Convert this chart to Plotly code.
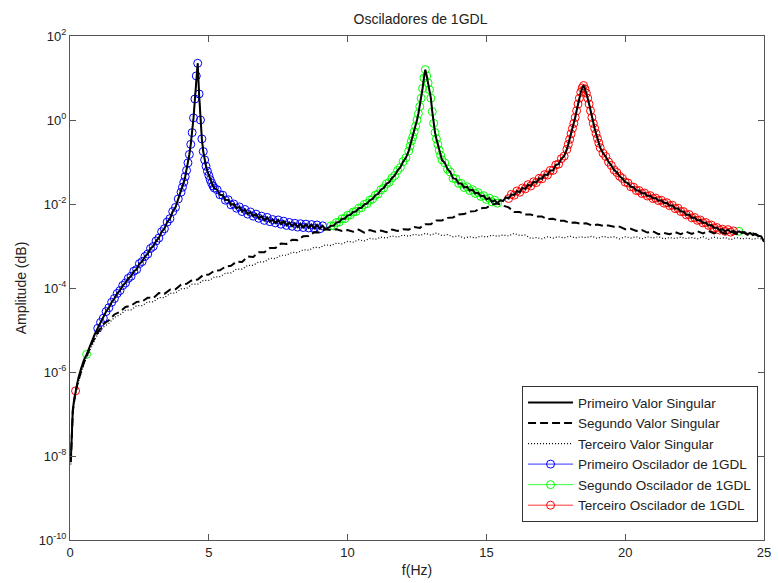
import numpy as np
import plotly.graph_objects as go

# ---------------- data (amplitudes stored as log10 values) -------------
# First singular value: frequency segments (start, stop, step) and log10 amplitudes
f_low = [0.03, 0.05, 0.07, 0.1, 0.15, 0.2, 0.3, 0.4, 0.5, 0.6, 0.7, 0.8, 0.9]
sv1_low = [-8.10, -7.60, -7.10, -6.90, -6.65, -6.45, -6.15, -5.92, -5.72, -5.58, -5.40, -5.24, -5.09]

sv1_segments = [
    (1.0, 3.9, 0.1, [-4.96, -4.82, -4.72, -4.56, -4.47, -4.34, -4.25, -4.13, -4.06, -3.94,
                     -3.88, -3.77, -3.72, -3.60, -3.56, -3.42, -3.37, -3.25, -3.19, -3.06,
                     -3.01, -2.88, -2.81, -2.66, -2.59, -2.43, -2.35, -2.18, -2.08, -1.88]),
    (4.0, 5.2, 0.05, [-1.72, -1.60, -1.48, -1.35, -1.20,
                      -1.02, -0.82, -0.58, -0.30, 0.05,
                      0.50, 1.05, 1.35, 0.62, 0.00,
                      -0.45, -0.75, -0.95, -1.10, -1.22,
                      -1.32, -1.42, -1.50, -1.57, -1.62]),
    (5.3, 12.1, 0.1, [-1.66, -1.78, -1.79, -1.91, -1.90, -2.02, -2.00,
                      -2.10, -2.07, -2.18, -2.13, -2.24, -2.19, -2.29, -2.24, -2.34, -2.29,
                      -2.39, -2.32, -2.42, -2.37, -2.45, -2.38, -2.48, -2.41, -2.51, -2.44,
                      -2.53, -2.46, -2.55, -2.47, -2.56, -2.48, -2.57, -2.49, -2.58, -2.50,
                      -2.59, -2.52, -2.60, -2.57, -2.52, -2.52, -2.44, -2.43, -2.35, -2.35,
                      -2.27, -2.26, -2.19, -2.18, -2.10, -2.09, -2.01, -1.99, -1.91, -1.88,
                      -1.79, -1.76, -1.66, -1.62, -1.52, -1.48, -1.38, -1.32, -1.20, -1.13,
                      -0.99, -0.90]),
    (12.2, 13.4, 0.05, [-0.74, -0.62, -0.50, -0.40, -0.28,
                        -0.15, 0.00, 0.15, 0.32, 0.52,
                        0.75, 1.00, 1.20, 1.05, 0.88,
                        0.72, 0.52, 0.20, -0.08, -0.30,
                        -0.45, -0.58, -0.72, -0.84, -0.95]),
    (13.5, 17.8, 0.1, [-1.02, -1.17, -1.24, -1.39, -1.40,
                       -1.51, -1.51, -1.61, -1.59, -1.68, -1.66, -1.75, -1.73, -1.82, -1.80,
                       -1.89, -1.86, -1.95, -1.91, -1.98, -1.91, -1.93, -1.84, -1.87, -1.77,
                       -1.79, -1.69, -1.72, -1.62, -1.64, -1.54, -1.57, -1.47, -1.49, -1.39,
                       -1.40, -1.30, -1.31, -1.20, -1.20, -1.07, -1.05, -0.92, -0.86]),
    (17.9, 19.1, 0.05, [-0.70, -0.58, -0.46, -0.33, -0.20,
                        -0.08, 0.06, 0.22, 0.38, 0.52,
                        0.66, 0.76, 0.82, 0.74, 0.64,
                        0.52, 0.38, 0.22, 0.06, -0.08,
                        -0.20, -0.32, -0.44, -0.55, -0.66]),
    (19.2, 25.0, 0.1, [-0.79, -0.87, -1.00, -1.08, -1.19, -1.25, -1.34, -1.39,
                       -1.48, -1.50, -1.59, -1.60, -1.68, -1.68, -1.75, -1.74, -1.81, -1.80,
                       -1.87, -1.86, -1.92, -1.91, -1.98, -1.97, -2.04, -2.03, -2.11, -2.10,
                       -2.18, -2.18, -2.26, -2.25, -2.33, -2.32, -2.39, -2.38, -2.45, -2.44,
                       -2.51, -2.50, -2.57, -2.56, -2.62, -2.60, -2.65, -2.61, -2.67, -2.64,
                       -2.68, -2.65, -2.69, -2.67, -2.72, -2.69, -2.74, -2.71, -2.76, -2.77,
                       -2.90]),
]

# Second and third singular values: low part on f_low, then 1.0..25.0 Hz every 0.2 Hz
sv2_low = [-8.15, -7.65, -7.15, -6.95, -6.70, -6.48, -6.20, -5.98, -5.78, -5.62, -5.45, -5.30, -5.18]
sv2_main = [-5.05, -4.86, -4.77, -4.63, -4.57,
            -4.45, -4.42, -4.33, -4.32, -4.23,
            -4.24, -4.12, -4.14, -4.04, -4.03,
            -3.92, -3.90, -3.81, -3.80, -3.69,
            -3.68, -3.59, -3.58, -3.49, -3.47,
            -3.37, -3.38, -3.25, -3.26, -3.15,
            -3.15, -3.05, -3.05, -2.94, -2.95,
            -2.85, -2.86, -2.77, -2.76, -2.67,
            -2.68, -2.60, -2.62, -2.60, -2.64,
            -2.62, -2.66, -2.61, -2.68, -2.62,
            -2.66, -2.63, -2.67, -2.61, -2.64,
            -2.60, -2.61, -2.55, -2.57, -2.48,
            -2.48, -2.39, -2.39, -2.33, -2.32,
            -2.25, -2.24, -2.18, -2.17, -2.10,
            -2.09, -2.01, -1.99, -2.04, -2.08,
            -2.19, -2.19, -2.25, -2.25, -2.30,
            -2.30, -2.36, -2.35, -2.40, -2.40,
            -2.45, -2.44, -2.47, -2.46, -2.51,
            -2.49, -2.52, -2.51, -2.54, -2.54,
            -2.60, -2.59, -2.64, -2.62, -2.68,
            -2.65, -2.72, -2.69, -2.72, -2.67,
            -2.72, -2.66, -2.71, -2.65, -2.70,
            -2.64, -2.70, -2.65, -2.71, -2.65,
            -2.72, -2.66, -2.73, -2.70, -2.76,
            -2.76]

sv3_low = [-8.20, -7.70, -7.20, -7.00, -6.75, -6.52, -6.25, -6.02, -5.82, -5.66, -5.50, -5.35, -5.22]
sv3_main = [-5.10, -4.93, -4.84, -4.70, -4.64,
            -4.53, -4.52, -4.42, -4.42, -4.33,
            -4.33, -4.23, -4.23, -4.13, -4.12,
            -4.02, -4.01, -3.91, -3.91, -3.82,
            -3.82, -3.74, -3.73, -3.65, -3.64,
            -3.55, -3.55, -3.46, -3.46, -3.38,
            -3.38, -3.29, -3.30, -3.22, -3.22,
            -3.15, -3.16, -3.09, -3.10, -3.03,
            -3.04, -2.97, -2.99, -2.93, -2.95,
            -2.89, -2.91, -2.85, -2.88, -2.82,
            -2.84, -2.79, -2.81, -2.76, -2.79,
            -2.74, -2.77, -2.72, -2.75, -2.70,
            -2.74, -2.69, -2.75, -2.73, -2.78,
            -2.76, -2.81, -2.78, -2.81, -2.76,
            -2.79, -2.74, -2.77, -2.74, -2.76,
            -2.70, -2.75, -2.74, -2.82, -2.80,
            -2.83, -2.78, -2.81, -2.78, -2.81,
            -2.76, -2.81, -2.78, -2.80, -2.77,
            -2.82, -2.77, -2.80, -2.78, -2.83,
            -2.78, -2.81, -2.78, -2.83, -2.78,
            -2.81, -2.78, -2.83, -2.80, -2.82,
            -2.79, -2.82, -2.80, -2.83, -2.78,
            -2.84, -2.79, -2.82, -2.80, -2.85,
            -2.80, -2.83, -2.81, -2.84, -2.81,
            -2.85]

# Frequency bands (Hz) where each 1-DOF oscillator is identified on the first singular value
osc1_bands = [(1.0, 9.1)]
osc2_bands = [(0.6, 0.6), (9.4, 15.4), (24.1, 24.1)]
osc3_bands = [(0.2, 0.2), (15.8, 23.9)]

names_sv = ["Primeiro Valor Singular", "Segundo Valor Singular", "Terceiro Valor Singular"]
names_osc = ["Primeiro Oscilador de 1GDL", "Segundo Oscilador de 1GDL", "Terceiro Oscilador de 1GDL"]
colors_osc = ["#0000ff", "#00ff00", "#ff0000"]

tick_exps = [-10, -8, -6, -4, -2, 0, 2]
tick_text = ["10<sup>%d</sup>" % e for e in tick_exps]
x_ticks = [0, 5, 10, 15, 20, 25]


# ---------------- build arrays -------------
def grid(a, b, step):
    n = int(round((b - a) / step)) + 1
    return [round(a + i * step, 3) for i in range(n)]


f1 = list(f_low)
l1 = list(sv1_low)
for a, b, s, vals in sv1_segments:
    g = grid(a, b, s)
    assert len(g) == len(vals), (a, b, len(g), len(vals))
    f1 += g
    l1 += vals
f1 = np.array(f1)
sv1 = 10.0 ** np.array(l1)

f23 = list(f_low) + grid(1.0, 25.0, 0.2)
assert len(f23) == len(sv2_low) + len(sv2_main)
assert len(f23) == len(sv3_low) + len(sv3_main)
sv2 = 10.0 ** np.array(sv2_low + sv2_main)
sv3 = 10.0 ** np.array(sv3_low + sv3_main)


def band_points(bands):
    xs, ys = [], []
    for lo, hi in bands:
        m = (f1 >= lo - 1e-6) & (f1 <= hi + 1e-6)
        if xs:
            xs.append(None)
            ys.append(None)
        xs += list(f1[m])
        ys += list(sv1[m])
    return xs, ys


fig = go.Figure()

for k, bands in enumerate([osc1_bands, osc2_bands, osc3_bands]):
    xs, ys = band_points(bands)
    fig.add_trace(go.Scatter(
        x=xs, y=ys, name=names_osc[k], mode="lines+markers", connectgaps=False,
        line=dict(color=colors_osc[k], width=0.8),
        marker=dict(symbol="circle-open", size=8, color=colors_osc[k], line=dict(width=1)),
        legendrank=4 + k))

fig.add_trace(go.Scatter(x=f23, y=sv3, name=names_sv[2], mode="lines",
                         line=dict(color="black", width=1.2, dash="1px,2px"), legendrank=3))
fig.add_trace(go.Scatter(x=f23, y=sv2, name=names_sv[1], mode="lines",
                         line=dict(color="black", width=2, dash="8px,4px"), legendrank=2))
fig.add_trace(go.Scatter(x=f1, y=sv1, name=names_sv[0], mode="lines",
                         line=dict(color="black", width=2), legendrank=1))

font_family = "Liberation Sans, Arial, Helvetica, sans-serif"
axis_common = dict(showline=True, linecolor="#555", linewidth=1, mirror="ticks",
                   ticks="inside", ticklen=6, tickcolor="#555", showgrid=False,
                   zeroline=False, tickfont=dict(size=13, color="#222", family=font_family))

fig.update_layout(
    width=779, height=583,
    margin=dict(l=70, r=8, t=36, b=38),
    paper_bgcolor="white", plot_bgcolor="white",
    font=dict(family=font_family, size=14, color="#222"),
    title=dict(text="Osciladores de 1GDL", x=(70 + 771) / 2 / 779, xanchor="center",
               y=1 - 19 / 583, yanchor="middle", yref="container",
               font=dict(size=14, color="#222")),
    xaxis=dict(range=[0, 25], tickvals=x_ticks,
               title=dict(text="f(Hz)", standoff=6, font=dict(size=14)), **axis_common),
    yaxis=dict(type="log", range=[-10, 2], tickvals=[10.0 ** e for e in tick_exps],
               ticktext=tick_text,
               title=dict(text="Amplitude (dB)", standoff=8, font=dict(size=14)), **axis_common),
    showlegend=True,
    legend=dict(x=(765 - 70) / 701, xanchor="right", y=(545 - 527) / 509, yanchor="bottom",
                bgcolor="white", bordercolor="#333", borderwidth=1,
                font=dict(size=13.5, color="#222"), itemwidth=45, tracegroupgap=0,
                traceorder="normal"),
)

fig.write_html("out.html")
